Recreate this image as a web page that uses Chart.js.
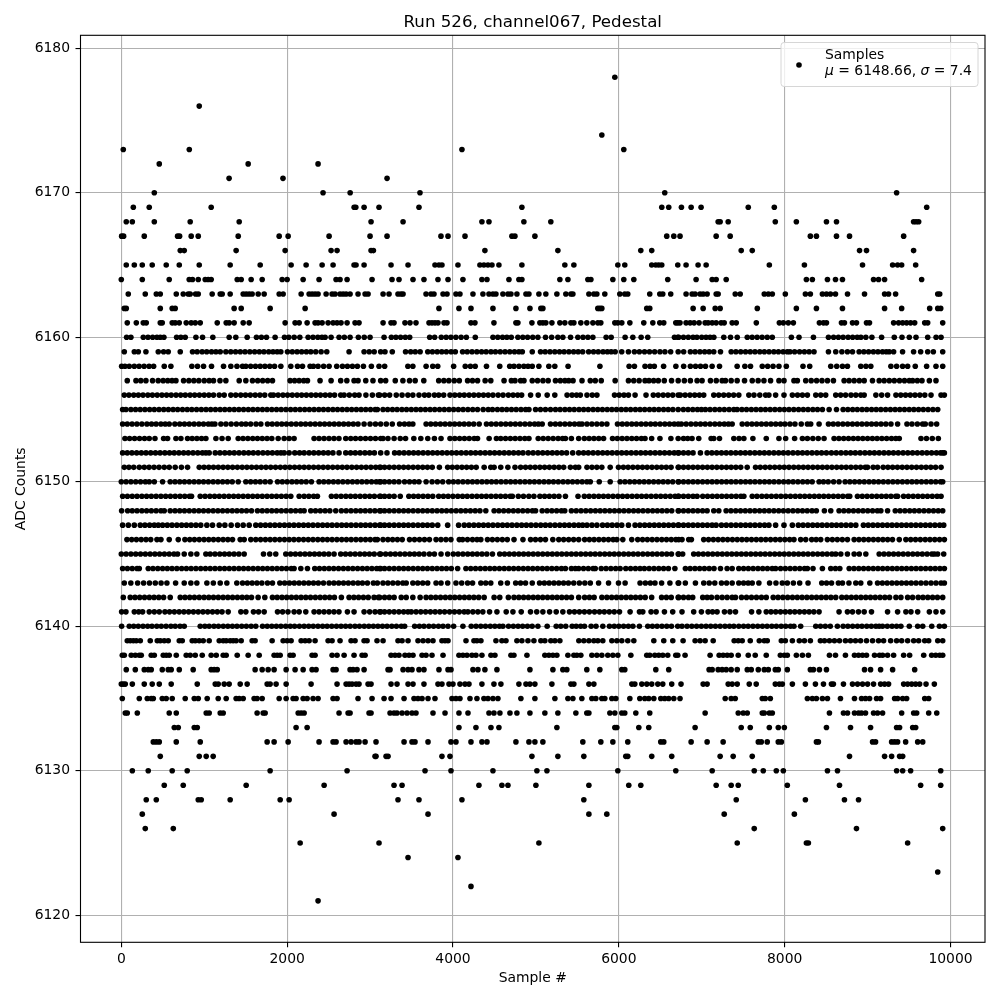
<!DOCTYPE html>
<html>
<head>
<meta charset="utf-8">
<title>Pedestal</title>
<script src="https://cdn.jsdelivr.net/npm/chart.js@4"></script>
<style>
  html, body { margin: 0; padding: 0; background: #fff; }
  canvas { display: block; }
</style>
</head>
<body>
<canvas id="pedestalChart" width="1000" height="1000"></canvas>
<script>
// Values: for each ADC level, the sample numbers that sit on it
const xTickValues = [0, 2000, 4000, 6000, 8000, 10000];
const yTickValues = [6120, 6130, 6140, 6150, 6160, 6170, 6180];
const chartTitle = 'Run 526, channel067, Pedestal';
const seriesName = 'Samples';
const meanText = ' = 6148.66, ';
const sigmaText = ' = 7.4';

const at6178 = [5952];
const at6176 = [940];
const at6174 = [5795];
const at6173 = [24, 820, 4108, 6060];
const at6172 = [458, 1530, 2373];
const at6171 = [1300, 1950, 3205];
const at6170 = [398, 2433, 2760, 3602, 6554, 9350];
const at6169 = [145, 337, 1084, 2808, 2828, 2928, 3108, 3590, 4831, 6518, 6602, 6755, 6872, 6992, 7561, 7875, 9713];
const at6168 = [60, 133, 398, 831, 1422, 3012, 3398, 4349, 4434, 4855, 5180, 7198, 7222, 7319, 7887, 8141, 8504, 8625, 9555, 9585, 9616];
const at6167 = [4, 28, 277, 679, 703, 843, 928, 1410, 1904, 2012, 2506, 3000, 3205, 3855, 3940, 4145, 4711, 4747, 4988, 6578, 6663, 6738, 7174, 7343, 8310, 8383, 8625, 8782, 9435];
const at6166 = [711, 759, 1385, 1976, 2530, 2602, 3012, 3040, 4385, 5265, 6265, 6397, 7476, 7609, 8903, 8987, 9555];
const at6165 = [60, 157, 253, 373, 542, 699, 940, 1313, 1675, 2048, 2229, 2422, 2554, 2807, 2831, 2928, 3253, 3458, 3783, 3831, 3867, 4060, 4325, 4373, 4422, 4470, 4554, 4831, 5349, 5458, 5988, 6072, 6397, 6446, 6482, 6518, 6711, 6811, 6956, 7053, 7815, 8238, 8939, 9302, 9362, 9411, 9580];
const at6164 = [0, 253, 578, 819, 859, 928, 1012, 1048, 1084, 1398, 1446, 1566, 1699, 1940, 2000, 2193, 2385, 2590, 2638, 2723, 3024, 3265, 3349, 3518, 3650, 3819, 3940, 4120, 4349, 4410, 4675, 4795, 4831, 5289, 5386, 5627, 5663, 5928, 6060, 6181, 6590, 6932, 7126, 7174, 7295, 8262, 8334, 8516, 8613, 8697, 9072, 9132, 9205, 9652];
const at6163 = [84, 289, 422, 470, 663, 747, 807, 831, 896, 928, 1096, 1193, 1217, 1313, 1470, 1506, 1542, 1578, 1651, 1723, 1904, 1952, 2169, 2265, 2301, 2337, 2373, 2470, 2542, 2578, 2638, 2675, 2711, 2759, 2855, 2940, 2976, 3157, 3229, 3337, 3373, 3398, 3675, 3735, 3771, 3880, 3928, 4036, 4084, 4241, 4361, 4434, 4482, 4518, 4602, 4663, 4699, 4771, 4880, 4916, 5036, 5120, 5253, 5361, 5422, 5446, 5639, 5699, 5735, 5831, 6012, 6072, 6108, 6373, 6494, 6530, 6626, 6811, 6884, 6920, 6980, 7017, 7065, 7174, 7198, 7404, 7464, 7754, 7803, 7851, 8008, 8250, 8310, 8455, 8504, 8552, 8613, 8758, 8963, 9205, 9253, 9338, 9846, 9870];
const at6162 = [36, 60, 470, 614, 650, 1361, 1446, 1795, 2217, 3831, 4072, 4217, 4482, 4759, 4928, 5060, 5084, 5747, 5771, 5795, 6337, 6373, 6896, 7017, 7162, 7222, 7670, 8141, 8383, 8697, 9205, 9411, 9749, 9846, 9882];
const at6161 = [72, 181, 265, 301, 470, 494, 614, 650, 699, 783, 843, 892, 952, 1157, 1265, 1301, 1361, 1470, 1542, 1976, 2096, 2145, 2241, 2337, 2373, 2422, 2494, 2554, 2602, 2650, 2723, 2819, 2867, 3157, 3253, 3289, 3421, 3482, 3554, 3711, 3747, 3783, 3819, 3892, 3928, 4217, 4265, 4494, 4759, 4783, 4952, 5048, 5084, 5120, 5193, 5289, 5349, 5422, 5458, 5542, 5614, 5687, 5747, 5783, 5952, 5988, 6036, 6133, 6301, 6410, 6494, 6542, 6687, 6711, 6738, 6811, 6860, 6908, 6968, 7041, 7077, 7126, 7174, 7234, 7271, 7367, 7416, 7658, 7936, 7984, 8044, 8105, 8419, 8468, 8504, 8685, 8721, 8818, 8866, 8987, 9023, 9314, 9374, 9423, 9471, 9519, 9568, 9689, 9725, 9906];
const at6160 = [64, 116, 265, 322, 378, 430, 470, 514, 667, 718, 771, 900, 980, 1104, 1301, 1381, 1518, 1630, 1690, 1751, 1855, 1968, 2020, 2085, 2153, 2253, 2312, 2370, 2420, 2458, 2530, 2626, 2690, 2759, 2859, 2930, 3000, 3169, 3257, 3312, 3368, 3425, 3478, 3719, 3779, 3859, 3918, 3975, 4035, 4098, 4161, 4269, 4482, 4540, 4598, 4650, 4703, 4783, 4842, 4900, 4962, 5024, 5116, 5190, 5265, 5325, 5418, 5506, 5568, 5627, 5687, 5847, 5908, 6076, 6169, 6269, 6349, 6671, 6711, 6722, 6780, 6838, 6895, 6942, 7000, 7052, 7100, 7146, 7266, 7347, 7428, 7549, 7608, 7668, 7728, 7790, 7851, 8081, 8173, 8347, 8528, 8590, 8648, 8705, 8765, 8820, 8875, 8919, 8979, 9052, 9169, 9322, 9415, 9503, 9584, 9725, 9826, 9886];
const at6159 = [36, 157, 205, 297, 446, 510, 566, 711, 859, 915, 975, 1030, 1088, 1141, 1193, 1261, 1320, 1378, 1435, 1492, 1550, 1608, 1665, 1720, 1778, 1830, 1880, 1924, 2004, 2062, 2120, 2175, 2232, 2285, 2345, 2410, 2478, 2747, 2928, 2990, 3050, 3128, 3180, 3268, 3428, 3490, 3545, 3604, 3696, 3752, 3810, 3865, 3920, 3978, 4028, 4116, 4172, 4230, 4288, 4345, 4400, 4458, 4512, 4570, 4628, 4685, 4742, 4795, 4836, 4956, 5056, 5112, 5170, 5228, 5285, 5340, 5398, 5455, 5510, 5564, 5636, 5695, 5752, 5810, 5862, 5908, 5956, 6035, 6116, 6188, 6248, 6310, 6370, 6432, 6496, 6556, 6625, 6716, 6782, 6863, 6920, 6978, 7035, 7090, 7145, 7226, 7355, 7412, 7470, 7528, 7585, 7642, 7700, 7755, 7812, 7870, 7925, 7982, 8032, 8064, 8120, 8180, 8238, 8295, 8354, 8528, 8616, 8690, 8757, 8818, 8898, 8955, 9012, 9070, 9125, 9180, 9225, 9261, 9314, 9422, 9555, 9640, 9725, 9793, 9906];
const at6158 = [4, 44, 96, 157, 215, 275, 335, 390, 518, 598, 851, 919, 992, 1088, 1233, 1321, 1395, 1462, 1502, 1560, 1618, 1675, 1732, 1790, 1848, 1924, 2044, 2125, 2185, 2277, 2317, 2373, 2440, 2506, 2598, 2667, 2727, 2787, 2847, 2920, 3016, 3108, 3176, 3456, 3516, 3676, 3756, 3816, 4008, 4148, 4210, 4268, 4404, 4564, 4684, 4736, 4796, 4855, 4905, 4956, 5036, 5156, 5228, 5388, 5772, 6124, 6188, 6316, 6376, 6428, 6540, 6688, 6782, 6863, 6925, 6985, 7045, 7125, 7214, 7427, 7520, 7588, 7730, 7795, 7860, 7931, 8020, 8221, 8302, 8556, 8628, 8697, 8757, 8918, 8980, 9039, 9281, 9350, 9422, 9483, 9575, 9712, 9825, 9906];
const at6157 = [72, 177, 235, 297, 377, 445, 505, 560, 612, 659, 751, 815, 875, 935, 1000, 1060, 1112, 1190, 1261, 1422, 1502, 1582, 1645, 1705, 1765, 1823, 2036, 2090, 2145, 2200, 2245, 2397, 2530, 2646, 2720, 2807, 2855, 2948, 3035, 3128, 3188, 3304, 3396, 3476, 3544, 3648, 3828, 3890, 3950, 4015, 4076, 4176, 4235, 4296, 4388, 4456, 4616, 4704, 4748, 4816, 4856, 4956, 5020, 5085, 5148, 5236, 5295, 5350, 5396, 5448, 5556, 5656, 5716, 5788, 5956, 6116, 6180, 6245, 6316, 6364, 6420, 6476, 6548, 6636, 6716, 6790, 6863, 6944, 7004, 7105, 7175, 7246, 7286, 7355, 7427, 7516, 7609, 7680, 7750, 7830, 7931, 7992, 8112, 8153, 8254, 8320, 8385, 8450, 8516, 8588, 8717, 8777, 8838, 8900, 8959, 9059, 9140, 9200, 9262, 9322, 9385, 9445, 9503, 9543, 9600, 9656, 9745, 9825];
const at6156 = [36, 92, 150, 206, 262, 320, 375, 433, 490, 546, 602, 660, 716, 772, 830, 885, 942, 1000, 1056, 1112, 1181, 1241, 1321, 1380, 1440, 1498, 1556, 1615, 1672, 1730, 1803, 1835, 1892, 1950, 2005, 2062, 2120, 2175, 2232, 2290, 2346, 2402, 2460, 2516, 2572, 2646, 2687, 2750, 2815, 2867, 2950, 3028, 3100, 3116, 3176, 3236, 3316, 3386, 3456, 3516, 3590, 3656, 3708, 3776, 3828, 3888, 3964, 4022, 4080, 4136, 4195, 4252, 4310, 4368, 4425, 4482, 4545, 4604, 4668, 4725, 4780, 4828, 4936, 5028, 5136, 5228, 5376, 5436, 5490, 5536, 5616, 5680, 5736, 5948, 6005, 6062, 6116, 6196, 6328, 6416, 6475, 6535, 6592, 6650, 6716, 6742, 6800, 6858, 6915, 6972, 7024, 7145, 7205, 7265, 7325, 7385, 7447, 7568, 7630, 7700, 7770, 7810, 7891, 7992, 8093, 8155, 8214, 8274, 8375, 8435, 8495, 8616, 8675, 8735, 8800, 8858, 8918, 8959, 9100, 9170, 9241, 9342, 9400, 9458, 9515, 9572, 9630, 9690, 9765, 9886, 9926];
const at6155 = [16, 56, 116, 172, 228, 285, 342, 398, 455, 512, 568, 625, 680, 738, 795, 850, 908, 965, 1022, 1078, 1135, 1192, 1248, 1305, 1362, 1418, 1475, 1532, 1588, 1645, 1702, 1758, 1815, 1872, 1928, 1985, 2042, 2098, 2155, 2212, 2268, 2325, 2382, 2438, 2495, 2552, 2608, 2665, 2722, 2778, 2835, 2892, 2948, 3005, 3062, 3088, 3156, 3212, 3270, 3326, 3384, 3440, 3497, 3554, 3610, 3667, 3724, 3780, 3838, 3895, 3952, 4008, 4065, 4122, 4180, 4238, 4296, 4364, 4425, 4476, 4536, 4592, 4648, 4705, 4762, 4820, 4876, 4916, 4996, 5055, 5115, 5176, 5236, 5292, 5350, 5406, 5462, 5520, 5576, 5632, 5690, 5746, 5802, 5860, 5916, 5972, 6030, 6086, 6142, 6200, 6256, 6312, 6370, 6426, 6482, 6540, 6596, 6652, 6716, 6778, 6835, 6892, 6948, 6996, 7044, 7100, 7158, 7215, 7272, 7330, 7387, 7427, 7484, 7540, 7598, 7655, 7712, 7768, 7825, 7882, 7940, 7996, 8052, 8110, 8168, 8225, 8282, 8340, 8396, 8455, 8536, 8625, 8705, 8762, 8820, 8876, 8934, 8990, 9048, 9104, 9160, 9218, 9275, 9332, 9388, 9445, 9502, 9558, 9615, 9672, 9730, 9788, 9846];
const at6154 = [16, 72, 130, 188, 248, 309, 365, 420, 478, 530, 578, 646, 705, 762, 820, 878, 936, 992, 1050, 1092, 1129, 1201, 1262, 1325, 1388, 1450, 1502, 1560, 1625, 1683, 1763, 1820, 1878, 1935, 1992, 2050, 2108, 2165, 2222, 2280, 2338, 2395, 2452, 2510, 2568, 2625, 2682, 2740, 2798, 2855, 2928, 3000, 3065, 3128, 3196, 3268, 3356, 3415, 3470, 3516, 3676, 3732, 3790, 3848, 3905, 3962, 4020, 4078, 4135, 4192, 4250, 4316, 4404, 4462, 4520, 4578, 4636, 4694, 4752, 4810, 4868, 4926, 4984, 5030, 5076, 5176, 5235, 5292, 5350, 5408, 5466, 5520, 5556, 5616, 5675, 5735, 5795, 5856, 5984, 6042, 6098, 6156, 6212, 6270, 6326, 6384, 6440, 6498, 6555, 6612, 6668, 6716, 6754, 6812, 6870, 6928, 6985, 7042, 7100, 7158, 7215, 7272, 7322, 7367, 7488, 7548, 7605, 7662, 7720, 7778, 7835, 7892, 7950, 8004, 8064, 8124, 8200, 8274, 8314, 8415, 8528, 8586, 8644, 8702, 8760, 8818, 8875, 8932, 8990, 9048, 9105, 9162, 9220, 9282, 9362, 9475, 9535, 9600, 9664, 9696, 9765, 9833];
const at6153 = [44, 100, 160, 220, 280, 337, 406, 510, 558, 659, 719, 799, 855, 912, 968, 1020, 1141, 1215, 1289, 1410, 1468, 1526, 1585, 1642, 1700, 1758, 1815, 1892, 1964, 2024, 2084, 2325, 2385, 2445, 2505, 2565, 2625, 2707, 2767, 2825, 2885, 2945, 3005, 3065, 3128, 3156, 3216, 3290, 3364, 3428, 3528, 3612, 3696, 3776, 3856, 3964, 4022, 4080, 4138, 4196, 4256, 4296, 4436, 4524, 4576, 4634, 4692, 4750, 4808, 4866, 4916, 5028, 5088, 5148, 5208, 5268, 5322, 5356, 5428, 5516, 5584, 5642, 5700, 5758, 5816, 5924, 5982, 6040, 6098, 6156, 6214, 6272, 6316, 6396, 6496, 6628, 6716, 6780, 6830, 6883, 6964, 7113, 7145, 7214, 7387, 7450, 7508, 7617, 7778, 7931, 8012, 8120, 8214, 8274, 8340, 8405, 8475, 8596, 8654, 8712, 8770, 8828, 8885, 8942, 9000, 9058, 9115, 9172, 9230, 9288, 9340, 9382, 9644, 9710, 9780, 9853];
const at6152 = [16, 72, 128, 185, 242, 298, 355, 412, 468, 525, 582, 638, 695, 752, 808, 865, 922, 978, 1020, 1060, 1133, 1190, 1248, 1305, 1362, 1420, 1478, 1535, 1592, 1650, 1708, 1765, 1822, 1880, 1925, 1964, 2024, 2092, 2150, 2205, 2265, 2322, 2380, 2438, 2495, 2552, 2626, 2707, 2765, 2822, 2880, 2938, 2995, 3052, 3128, 3204, 3296, 3352, 3410, 3468, 3525, 3582, 3640, 3698, 3755, 3812, 3870, 3928, 3985, 4042, 4100, 4158, 4215, 4272, 4330, 4388, 4445, 4502, 4560, 4618, 4675, 4732, 4790, 4844, 4908, 4966, 5025, 5082, 5140, 5198, 5255, 5312, 5370, 5444, 5516, 5575, 5632, 5690, 5748, 5805, 5862, 5920, 5978, 6035, 6092, 6150, 6208, 6265, 6322, 6380, 6438, 6495, 6552, 6610, 6668, 6716, 6722, 6780, 6838, 6895, 6984, 7065, 7122, 7180, 7238, 7295, 7352, 7410, 7468, 7525, 7582, 7640, 7698, 7755, 7812, 7870, 7928, 7985, 8042, 8100, 8158, 8215, 8272, 8330, 8388, 8445, 8503, 8564, 8622, 8680, 8738, 8795, 8852, 8910, 8968, 9025, 9082, 9140, 9198, 9255, 9312, 9370, 9428, 9485, 9542, 9600, 9658, 9715, 9772, 9830, 9880, 9906, 9926];
const at6151 = [36, 92, 150, 217, 277, 335, 395, 455, 518, 578, 650, 725, 799, 940, 998, 1055, 1112, 1170, 1228, 1285, 1342, 1400, 1458, 1515, 1572, 1630, 1688, 1745, 1802, 1860, 1918, 1975, 2032, 2090, 2148, 2205, 2262, 2320, 2378, 2435, 2492, 2550, 2608, 2665, 2722, 2780, 2838, 2895, 2952, 3010, 3068, 3128, 3116, 3175, 3232, 3290, 3348, 3405, 3462, 3520, 3578, 3635, 3692, 3750, 3836, 3936, 3992, 4050, 4108, 4165, 4222, 4280, 4376, 4456, 4496, 4576, 4662, 4748, 4816, 4875, 4932, 4990, 5048, 5105, 5162, 5220, 5278, 5335, 5416, 5476, 5516, 5616, 5676, 5735, 5795, 5896, 5996, 6055, 6112, 6170, 6228, 6285, 6342, 6400, 6458, 6515, 6572, 6630, 6716, 6722, 6780, 6838, 6895, 6952, 7010, 7068, 7125, 7182, 7240, 7298, 7355, 7412, 7470, 7548, 7649, 7706, 7765, 7822, 7880, 7938, 7995, 8052, 8110, 8168, 8225, 8282, 8340, 8398, 8455, 8512, 8570, 8628, 8685, 8742, 8800, 8858, 8915, 8972, 8999, 9067, 9120, 9188, 9245, 9302, 9360, 9418, 9475, 9532, 9590, 9648, 9705, 9762, 9820, 9886];
const at6150 = [0, 58, 116, 174, 232, 290, 337, 398, 498, 590, 648, 705, 762, 820, 878, 935, 992, 1050, 1108, 1165, 1222, 1280, 1338, 1410, 1502, 1560, 1618, 1675, 1735, 1795, 1884, 1942, 2000, 2058, 2115, 2172, 2230, 2293, 2385, 2442, 2500, 2558, 2615, 2672, 2730, 2788, 2845, 2902, 2960, 3018, 3075, 3128, 3116, 3175, 3232, 3290, 3348, 3416, 3476, 3535, 3590, 3676, 3748, 3812, 3876, 3948, 4005, 4062, 4120, 4178, 4235, 4292, 4350, 4408, 4465, 4522, 4580, 4638, 4695, 4752, 4810, 4868, 4925, 4982, 5040, 5098, 5155, 5212, 5270, 5328, 5385, 5442, 5500, 5558, 5615, 5656, 5764, 5896, 6016, 6074, 6132, 6190, 6248, 6305, 6362, 6420, 6478, 6535, 6592, 6650, 6716, 6722, 6780, 6838, 6895, 6952, 7010, 7068, 7125, 7182, 7240, 7298, 7355, 7412, 7470, 7528, 7585, 7642, 7700, 7758, 7815, 7872, 7930, 7988, 8045, 8102, 8160, 8218, 8275, 8332, 8415, 8468, 8525, 8590, 8656, 8729, 8786, 8844, 8902, 8960, 9018, 9075, 9132, 9190, 9248, 9305, 9362, 9420, 9478, 9535, 9592, 9650, 9708, 9765, 9822, 9880, 9906];
const at6149 = [16, 74, 132, 190, 248, 305, 362, 420, 478, 535, 592, 650, 708, 765, 822, 847, 952, 1010, 1068, 1125, 1182, 1240, 1298, 1355, 1412, 1470, 1528, 1585, 1642, 1700, 1758, 1815, 1872, 1930, 1988, 2044, 2145, 2205, 2262, 2320, 2365, 2534, 2592, 2650, 2708, 2765, 2822, 2880, 2938, 2995, 3052, 3128, 3116, 3175, 3232, 3290, 3364, 3468, 3525, 3582, 3640, 3698, 3756, 3828, 3885, 3942, 4000, 4058, 4115, 4172, 4230, 4288, 4345, 4402, 4460, 4518, 4575, 4632, 4690, 4716, 4788, 4850, 4915, 4976, 5048, 5105, 5162, 5220, 5278, 5356, 5508, 5584, 5642, 5700, 5758, 5815, 5872, 5930, 5988, 6045, 6102, 6160, 6218, 6275, 6332, 6390, 6448, 6505, 6562, 6620, 6678, 6716, 6722, 6780, 6838, 6895, 6944, 7012, 7070, 7128, 7185, 7242, 7300, 7358, 7415, 7472, 7508, 7609, 7666, 7725, 7782, 7840, 7898, 7955, 8012, 8070, 8128, 8185, 8242, 8300, 8358, 8415, 8472, 8530, 8588, 8645, 8702, 8760, 8785, 8878, 8936, 8994, 9052, 9110, 9168, 9225, 9282, 9340, 9362, 9434, 9492, 9550, 9608, 9665, 9722, 9780, 9838, 9886];
const at6148 = [4, 76, 132, 190, 248, 305, 362, 420, 478, 518, 590, 648, 705, 762, 820, 878, 935, 992, 1050, 1108, 1165, 1222, 1280, 1338, 1395, 1452, 1510, 1570, 1642, 1700, 1758, 1815, 1872, 1930, 1988, 2045, 2102, 2160, 2205, 2285, 2342, 2400, 2458, 2515, 2586, 2654, 2712, 2770, 2828, 2885, 2942, 3000, 3058, 3128, 3116, 3175, 3232, 3290, 3348, 3405, 3462, 3520, 3578, 3635, 3692, 3750, 3808, 3865, 3922, 3980, 4038, 4095, 4152, 4210, 4268, 4325, 4396, 4496, 4554, 4612, 4670, 4728, 4785, 4842, 4900, 4958, 4996, 5076, 5135, 5192, 5250, 5308, 5348, 5428, 5486, 5544, 5602, 5660, 5718, 5775, 5832, 5890, 5948, 6005, 6062, 6120, 6178, 6235, 6292, 6350, 6408, 6465, 6522, 6580, 6638, 6716, 6722, 6780, 6838, 6895, 6952, 7010, 7065, 7145, 7206, 7294, 7352, 7410, 7468, 7525, 7582, 7640, 7698, 7755, 7812, 7870, 7928, 7985, 8042, 8100, 8158, 8215, 8272, 8330, 8382, 8479, 8556, 8656, 8714, 8772, 8830, 8888, 8945, 9002, 9060, 9118, 9160, 9241, 9334, 9392, 9450, 9508, 9565, 9622, 9680, 9738, 9795, 9852, 9906];
const at6147 = [16, 85, 157, 229, 285, 342, 398, 446, 498, 555, 612, 670, 728, 785, 842, 900, 958, 1032, 1100, 1181, 1249, 1325, 1402, 1470, 1542, 1622, 1680, 1738, 1795, 1852, 1910, 1968, 2025, 2082, 2140, 2198, 2255, 2312, 2370, 2428, 2485, 2542, 2600, 2658, 2715, 2772, 2830, 2888, 2945, 3002, 3060, 3128, 3116, 3175, 3232, 3290, 3348, 3405, 3462, 3520, 3578, 3635, 3692, 3750, 3816, 3936, 4068, 4136, 4194, 4252, 4310, 4368, 4425, 4482, 4540, 4598, 4655, 4712, 4770, 4828, 4885, 4942, 5000, 5058, 5115, 5172, 5230, 5288, 5345, 5402, 5460, 5516, 5564, 5616, 5676, 5736, 5804, 5862, 5920, 5978, 6035, 6116, 6196, 6254, 6312, 6370, 6428, 6485, 6542, 6600, 6658, 6716, 6722, 6780, 6838, 6895, 6952, 7010, 7068, 7125, 7173, 7238, 7296, 7354, 7412, 7470, 7528, 7585, 7642, 7700, 7758, 7810, 7891, 7992, 8093, 8165, 8222, 8280, 8338, 8395, 8452, 8510, 8568, 8625, 8682, 8740, 8798, 8858, 8950, 9008, 9065, 9122, 9180, 9238, 9295, 9352, 9410, 9468, 9525, 9582, 9640, 9698, 9755, 9812, 9870, 9918];
const at6146 = [68, 125, 182, 240, 298, 355, 430, 478, 578, 687, 767, 825, 882, 940, 998, 1055, 1112, 1170, 1228, 1285, 1341, 1434, 1482, 1562, 1622, 1680, 1738, 1795, 1852, 1910, 1968, 2025, 2082, 2140, 2198, 2255, 2312, 2370, 2428, 2485, 2542, 2600, 2658, 2715, 2772, 2830, 2888, 2945, 3002, 3060, 3088, 3156, 3215, 3272, 3330, 3388, 3476, 3536, 3596, 3656, 3716, 3796, 3855, 3915, 3975, 4076, 4116, 4175, 4235, 4290, 4336, 4416, 4475, 4535, 4595, 4655, 4736, 4844, 4936, 4995, 5055, 5115, 5204, 5276, 5335, 5395, 5455, 5516, 5588, 5645, 5702, 5760, 5818, 5875, 5932, 5976, 6048, 6156, 6228, 6286, 6344, 6402, 6460, 6518, 6575, 6632, 6688, 6722, 6762, 6843, 6875, 7024, 7082, 7140, 7198, 7255, 7312, 7370, 7428, 7485, 7542, 7600, 7658, 7715, 7772, 7830, 7888, 7945, 8002, 8060, 8112, 8193, 8254, 8326, 8380, 8435, 8515, 8575, 8635, 8695, 8757, 8838, 8896, 8954, 9012, 9070, 9128, 9185, 9242, 9300, 9382, 9462, 9520, 9578, 9636, 9695, 9752, 9810, 9868, 9926];
const at6145 = [0, 58, 116, 174, 232, 290, 348, 405, 462, 520, 578, 635, 679, 759, 839, 911, 1020, 1072, 1130, 1188, 1245, 1302, 1360, 1418, 1482, 1715, 1790, 1863, 1984, 2042, 2100, 2158, 2215, 2272, 2330, 2388, 2445, 2502, 2566, 2646, 2704, 2762, 2820, 2878, 2935, 2992, 3050, 3128, 3116, 3188, 3246, 3304, 3362, 3420, 3478, 3535, 3592, 3650, 3716, 3776, 3856, 3936, 4004, 4062, 4120, 4178, 4235, 4292, 4350, 4408, 4476, 4564, 4622, 4680, 4738, 4795, 4852, 4910, 4968, 5025, 5082, 5140, 5198, 5255, 5312, 5370, 5428, 5485, 5542, 5600, 5658, 5715, 5772, 5830, 5888, 5945, 6002, 6060, 6118, 6175, 6232, 6290, 6348, 6405, 6462, 6520, 6578, 6635, 6716, 6722, 6770, 6903, 6960, 7018, 7075, 7132, 7190, 7248, 7305, 7362, 7420, 7478, 7535, 7592, 7650, 7708, 7765, 7822, 7880, 7938, 7995, 8052, 8110, 8168, 8225, 8282, 8340, 8398, 8455, 8512, 8570, 8616, 8677, 8757, 8838, 8900, 8979, 9140, 9198, 9256, 9314, 9372, 9430, 9488, 9545, 9602, 9660, 9718, 9775, 9805, 9845, 9918];
const at6144 = [16, 74, 132, 190, 217, 325, 382, 440, 498, 555, 612, 670, 728, 785, 842, 900, 958, 1015, 1072, 1130, 1188, 1245, 1302, 1360, 1418, 1475, 1532, 1590, 1648, 1705, 1762, 1820, 1878, 1935, 1992, 2050, 2084, 2165, 2245, 2333, 2390, 2448, 2505, 2562, 2620, 2678, 2735, 2792, 2850, 2908, 2965, 3022, 3080, 3128, 3116, 3175, 3232, 3290, 3348, 3405, 3462, 3520, 3578, 3635, 3692, 3750, 3808, 3865, 3922, 3980, 4056, 4156, 4214, 4272, 4330, 4388, 4445, 4502, 4560, 4618, 4675, 4732, 4790, 4848, 4905, 4962, 5020, 5078, 5135, 5192, 5250, 5308, 5356, 5428, 5476, 5516, 5574, 5632, 5690, 5716, 5788, 5846, 5904, 5962, 6016, 6084, 6142, 6200, 6256, 6308, 6366, 6424, 6482, 6540, 6598, 6676, 6803, 6860, 6918, 6975, 7032, 7090, 7148, 7226, 7306, 7367, 7447, 7505, 7562, 7620, 7678, 7735, 7792, 7850, 7891, 7951, 8008, 8066, 8124, 8182, 8240, 8274, 8342, 8455, 8556, 8612, 8665, 8778, 8836, 8894, 8952, 9010, 9068, 9125, 9182, 9240, 9298, 9355, 9412, 9470, 9528, 9585, 9642, 9700, 9758, 9815, 9872, 9926];
const at6143 = [36, 115, 197, 269, 340, 410, 480, 550, 655, 759, 839, 911, 1032, 1110, 1193, 1273, 1393, 1462, 1520, 1578, 1636, 1695, 1763, 1823, 1912, 1970, 2028, 2086, 2144, 2202, 2260, 2318, 2376, 2438, 2506, 2564, 2622, 2680, 2738, 2796, 2854, 2908, 2968, 3040, 3088, 3156, 3215, 3275, 3335, 3395, 3436, 3516, 3575, 3635, 3695, 3796, 3856, 3936, 4036, 4105, 4176, 4236, 4336, 4395, 4456, 4576, 4656, 4756, 4815, 4875, 4956, 5044, 5102, 5160, 5218, 5276, 5334, 5392, 5456, 5524, 5590, 5656, 5756, 5876, 5996, 6076, 6256, 6320, 6380, 6436, 6516, 6616, 6716, 6722, 6802, 6924, 7024, 7090, 7157, 7238, 7300, 7367, 7447, 7505, 7560, 7609, 7689, 7818, 7895, 7971, 8032, 8105, 8181, 8282, 8447, 8505, 8565, 8648, 8697, 8775, 8858, 8918, 9027, 9120, 9178, 9236, 9294, 9352, 9410, 9468, 9526, 9584, 9644, 9704, 9765, 9825, 9886, 9926];
const at6142 = [24, 108, 165, 222, 280, 338, 395, 452, 510, 590, 711, 768, 825, 882, 940, 998, 1055, 1112, 1170, 1228, 1285, 1342, 1400, 1458, 1514, 1570, 1650, 1731, 1823, 1880, 1938, 1995, 2052, 2110, 2168, 2225, 2282, 2340, 2398, 2455, 2512, 2570, 2654, 2747, 2805, 2862, 2920, 2978, 3048, 3100, 3116, 3175, 3232, 3290, 3376, 3436, 3516, 3604, 3676, 3734, 3792, 3850, 3908, 3965, 4022, 4080, 4138, 4195, 4252, 4310, 4376, 4496, 4564, 4668, 4736, 4794, 4852, 4910, 4968, 5025, 5082, 5140, 5198, 5255, 5312, 5370, 5428, 5516, 5588, 5645, 5702, 5796, 5856, 5914, 5972, 6030, 6088, 6145, 6202, 6260, 6318, 6396, 6516, 6574, 6632, 6716, 6722, 6780, 6840, 6891, 7012, 7065, 7117, 7185, 7246, 7306, 7367, 7407, 7480, 7540, 7600, 7660, 7720, 7778, 7862, 7920, 7978, 8036, 8094, 8152, 8210, 8268, 8326, 8384, 8442, 8500, 8558, 8616, 8689, 8746, 8804, 8862, 8920, 8978, 9035, 9092, 9150, 9208, 9265, 9342, 9402, 9483, 9543, 9611, 9668, 9726, 9784, 9842, 9906];
const at6141 = [4, 56, 157, 210, 257, 337, 398, 458, 526, 582, 640, 698, 755, 812, 870, 928, 985, 1042, 1100, 1158, 1215, 1289, 1442, 1502, 1594, 1655, 1723, 1884, 1945, 2010, 2084, 2145, 2225, 2325, 2385, 2445, 2505, 2565, 2625, 2727, 2807, 2928, 2995, 3060, 3128, 3116, 3175, 3232, 3290, 3348, 3405, 3457, 3497, 3555, 3612, 3670, 3728, 3785, 3842, 3899, 3959, 4018, 4076, 4135, 4180, 4240, 4300, 4360, 4441, 4530, 4642, 4723, 4823, 4935, 5010, 5084, 5165, 5245, 5325, 5405, 5465, 5525, 5585, 5645, 5707, 5767, 5825, 5885, 5945, 6008, 6136, 6249, 6289, 6389, 6450, 6550, 6650, 6762, 6903, 6996, 7077, 7130, 7185, 7274, 7340, 7407, 7601, 7689, 7778, 7835, 7892, 7950, 8008, 8065, 8122, 8180, 8238, 8295, 8352, 8415, 8656, 8757, 8818, 8890, 8959, 9047, 9241, 9362, 9462, 9523, 9604, 9745, 9825, 9906];
const at6140 = [4, 96, 150, 205, 262, 318, 370, 428, 482, 540, 598, 650, 708, 759, 952, 1008, 1060, 1118, 1172, 1230, 1285, 1340, 1395, 1452, 1508, 1566, 1622, 1703, 1760, 1815, 1870, 1925, 1982, 2038, 2090, 2148, 2205, 2260, 2315, 2372, 2428, 2482, 2538, 2595, 2650, 2705, 2760, 2818, 2872, 2930, 2985, 3040, 3095, 3150, 3205, 3262, 3318, 3377, 3417, 3538, 3595, 3650, 3710, 3766, 3825, 3880, 3940, 4008, 4120, 4220, 4278, 4335, 4392, 4450, 4505, 4560, 4602, 4670, 4728, 4785, 4840, 4898, 4955, 5024, 5136, 5245, 5300, 5360, 5437, 5486, 5540, 5586, 5666, 5725, 5807, 5887, 5945, 6000, 6058, 6115, 6170, 6248, 6349, 6405, 6462, 6520, 6578, 6635, 6710, 6762, 6823, 6880, 6938, 6995, 7052, 7108, 7165, 7222, 7280, 7335, 7387, 7447, 7505, 7560, 7618, 7675, 7732, 7788, 7845, 7900, 7958, 8012, 8070, 8112, 8193, 8375, 8432, 8490, 8550, 8636, 8705, 8762, 8820, 8878, 8932, 8990, 9045, 9100, 9140, 9180, 9238, 9295, 9350, 9402, 9503, 9604, 9665, 9774, 9866, 9926];
const at6139 = [72, 108, 145, 181, 229, 349, 434, 470, 518, 566, 699, 735, 855, 892, 940, 988, 1060, 1181, 1229, 1265, 1313, 1349, 1385, 1446, 1578, 1614, 1819, 1952, 2000, 2048, 2169, 2217, 2265, 2337, 2494, 2542, 2638, 2771, 2819, 2928, 2964, 3084, 3157, 3337, 3386, 3458, 3578, 3639, 3699, 3759, 3867, 3904, 3940, 4157, 4253, 4289, 4337, 4518, 4590, 4639, 4771, 4831, 4904, 4976, 5060, 5108, 5180, 5229, 5289, 5518, 5578, 5639, 5699, 5747, 5807, 5916, 5976, 6036, 6108, 6181, 6422, 6542, 6651, 6775, 6920, 6980, 7041, 7138, 7391, 7440, 7488, 7585, 7694, 7754, 7790, 7960, 8008, 8093, 8177, 8238, 8310, 8431, 8480, 8540, 8600, 8661, 8733, 8794, 8854, 8915, 8987, 9060, 9132, 9193, 9278, 9350, 9411, 9483, 9556, 9616, 9689, 9737, 9846, 9906];
const at6138 = [12, 36, 120, 169, 217, 241, 361, 398, 506, 542, 578, 663, 783, 831, 892, 976, 1084, 1145, 1229, 1265, 1398, 1530, 1663, 1843, 1880, 1916, 2036, 2072, 2301, 2337, 2542, 2602, 2687, 2807, 2904, 2940, 3253, 3301, 3349, 3421, 3470, 3518, 3627, 3675, 3747, 3880, 4072, 4120, 4169, 4229, 4277, 4349, 4458, 4506, 4699, 4735, 4892, 5108, 5157, 5205, 5253, 5386, 5458, 5494, 5542, 5675, 5735, 5795, 5867, 5928, 5988, 6145, 6337, 6373, 6434, 6482, 6530, 6590, 6687, 6711, 6799, 7101, 7210, 7258, 7307, 7355, 7440, 7561, 7645, 7778, 7948, 7996, 8032, 8141, 8214, 8286, 8540, 8613, 8733, 8842, 8891, 8939, 8987, 9084, 9144, 9181, 9241, 9314, 9435, 9507, 9677, 9773, 9822, 9870, 9906];
const at6137 = [60, 169, 277, 325, 361, 494, 566, 602, 699, 867, 1084, 1120, 1157, 1614, 1699, 1771, 1843, 1988, 2096, 2193, 2301, 2349, 2554, 2590, 2759, 2795, 2843, 2928, 3217, 3241, 3398, 3458, 3506, 3590, 3650, 3831, 3940, 3976, 4241, 4301, 4385, 4530, 4928, 5205, 5325, 5373, 5614, 5771, 6036, 6072, 6446, 6602, 7089, 7126, 7198, 7246, 7295, 7355, 7428, 7549, 7597, 7682, 7754, 7803, 7887, 7923, 8032, 8310, 8347, 8419, 8504, 8963, 9036, 9157, 9302, 9568];
const at6136 = [0, 24, 48, 133, 277, 373, 458, 602, 916, 1133, 1169, 1241, 1301, 1434, 1518, 1759, 1795, 1867, 1988, 2289, 2602, 2711, 2747, 2783, 2831, 2867, 2976, 3012, 3253, 3325, 3458, 3518, 3650, 3819, 3867, 3952, 4000, 4084, 4145, 4193, 4349, 4494, 4578, 4795, 4880, 4928, 4988, 5193, 5422, 5458, 5639, 5699, 6157, 6193, 6277, 6337, 6397, 6470, 6530, 6638, 6750, 7017, 7065, 7319, 7367, 7428, 7573, 7657, 7887, 7935, 7972, 8093, 8250, 8371, 8468, 8564, 8588, 8709, 8818, 8879, 8939, 9000, 9072, 9157, 9205, 9253, 9435, 9483, 9532, 9580, 9628, 9705, 9805];
const at6135 = [12, 217, 313, 361, 386, 494, 542, 614, 771, 880, 928, 1036, 1169, 1265, 1385, 1422, 1470, 1602, 1638, 1699, 1904, 1988, 2072, 2108, 2193, 2241, 2313, 2373, 2554, 2602, 2855, 3024, 3169, 3253, 3410, 3530, 3578, 3627, 3699, 3783, 3988, 4036, 4084, 4205, 4289, 4373, 4422, 4482, 4542, 4819, 4988, 5229, 5386, 5446, 5554, 5675, 5723, 5795, 5831, 5916, 5964, 6133, 6253, 6313, 6361, 6422, 6506, 6554, 6602, 6663, 6738, 7283, 7355, 7404, 7730, 7766, 7827, 8274, 8334, 8383, 8455, 8516, 8673, 8842, 8927, 8975, 9024, 9108, 9157, 9326, 9362, 9423, 9471, 9689, 9737];
const at6134 = [48, 72, 193, 578, 663, 1024, 1060, 1193, 1229, 1638, 1711, 1735, 2133, 2169, 2205, 2626, 2735, 2759, 2988, 3012, 3241, 3289, 3325, 3386, 3446, 3506, 3554, 3759, 3904, 4072, 4181, 4434, 4494, 4566, 4687, 4771, 4928, 5108, 5265, 5482, 5614, 5639, 5892, 5952, 6036, 6072, 6205, 6373, 7041, 7440, 7500, 7549, 7730, 7754, 7815, 7851, 8540, 8709, 8758, 8842, 8891, 8927, 8975, 9072, 9120, 9181, 9411, 9556, 9592, 9737, 9834];
const at6133 = [639, 687, 880, 916, 2108, 2241, 4072, 4277, 4458, 4554, 5253, 5952, 5976, 6241, 6361, 6920, 7476, 7585, 7815, 7923, 7996, 8504, 8794, 9036, 9350, 9386, 9544, 9580];
const at6132 = [386, 422, 458, 663, 952, 1759, 1843, 2012, 2385, 2554, 2590, 2711, 2771, 2831, 2867, 2940, 3072, 3410, 3506, 3542, 3699, 3976, 4036, 4217, 4349, 4410, 4759, 4916, 4988, 5084, 5566, 5783, 5928, 6108, 6506, 6542, 6872, 7065, 7258, 7682, 7718, 7790, 7923, 7960, 8383, 8407, 9060, 9096, 9290, 9326, 9362, 9459, 9604, 9665];
const at6131 = [470, 940, 1024, 1108, 3060, 3072, 3193, 3217, 3867, 3964, 4952, 5265, 5578, 6084, 6108, 6397, 6638, 7222, 7379, 7609, 8782, 9205, 9290, 9386, 9423];
const at6130 = [133, 325, 614, 795, 1795, 2723, 3663, 3976, 4482, 5012, 5133, 5988, 6687, 7126, 7633, 7742, 7899, 7984, 8516, 8637, 9350, 9423, 9519, 9882];
const at6129 = [518, 747, 1506, 2446, 3289, 3386, 4313, 4590, 4663, 5000, 5639, 6120, 6265, 7174, 7355, 7440, 8032, 8661, 9640, 9882];
const at6128 = [301, 422, 928, 964, 1313, 1916, 2024, 3337, 3590, 4108, 5578, 7416, 8250, 8721, 8891];
const at6127 = [253, 2566, 3699, 5639, 5855, 7271, 8117];
const at6126 = [289, 627, 7633, 8866, 9906];
const at6125 = [2157, 3108, 5036, 7428, 8262, 8286, 9483];
const at6124 = [3458, 4060];
const at6123 = [9846];
const at6122 = [4217];
const at6121 = [2373];

const adcLevels = [6178, 6176, 6174, 6173, 6172, 6171, 6170, 6169, 6168, 6167, 6166, 6165, 6164, 6163, 6162, 6161, 6160, 6159, 6158, 6157, 6156, 6155, 6154, 6153, 6152, 6151, 6150, 6149, 6148, 6147, 6146, 6145, 6144, 6143, 6142, 6141, 6140, 6139, 6138, 6137, 6136, 6135, 6134, 6133, 6132, 6131, 6130, 6129, 6128, 6127, 6126, 6125, 6124, 6123, 6122, 6121];
const samplesPerLevel = [at6178, at6176, at6174, at6173, at6172, at6171, at6170, at6169, at6168, at6167, at6166, at6165, at6164, at6163, at6162, at6161, at6160, at6159, at6158, at6157, at6156, at6155, at6154, at6153, at6152, at6151, at6150, at6149, at6148, at6147, at6146, at6145, at6144, at6143, at6142, at6141, at6140, at6139, at6138, at6137, at6136, at6135, at6134, at6133, at6132, at6131, at6130, at6129, at6128, at6127, at6126, at6125, at6124, at6123, at6122, at6121];

// Flatten the per-level lists into scatter points
const points = [];
adcLevels.forEach((level, i) => {
    samplesPerLevel[i].forEach(sample => points.push({ x: sample, y: level }));
});

const baseFont = '"DejaVu Sans", sans-serif';

// All four spines plus the legend box, which Chart.js can't place inside the axes
const framePlugin = {
    id: 'frameAndLegend',
    afterDatasetsDraw(chart) {
        const { ctx, chartArea } = chart;
        ctx.save();
        ctx.strokeStyle = '#000';
        ctx.lineWidth = 1.1;
        ctx.strokeRect(chartArea.left, chartArea.top, chartArea.width, chartArea.height);

        // legend frame
        ctx.lineWidth = 1;
        ctx.beginPath();
        ctx.roundRect(781, 42.5, 197, 44, 3);
        ctx.fillStyle = 'rgba(255,255,255,0.8)';
        ctx.fill();
        ctx.strokeStyle = '#d6d6d6';
        ctx.stroke();

        // legend marker
        ctx.beginPath();
        ctx.arc(799, 65, 2.8, 0, Math.PI * 2);
        ctx.fillStyle = '#000';
        ctx.fill();

        // legend text
        ctx.textBaseline = 'alphabetic';
        ctx.textAlign = 'left';
        ctx.font = '13.9px ' + baseFont;
        ctx.fillText(seriesName, 825, 59);
        let x = 825;
        const parts = [['\u03bc', true], [meanText, false], ['\u03c3', true], [sigmaText, false]];
        parts.forEach(([text, italic]) => {
            ctx.font = (italic ? 'italic ' : '') + '13.9px ' + baseFont;
            ctx.fillText(text, x, 75);
            x += ctx.measureText(text).width;
        });
        ctx.restore();
    }
};

new Chart(document.getElementById('pedestalChart'), {
    type: 'scatter',
    data: {
        datasets: [{
            label: seriesName,
            data: points,
            backgroundColor: '#000',
            borderColor: '#000',
            pointRadius: 2.8,
            pointBorderWidth: 0,
            pointHoverRadius: 2.8
        }]
    },
    options: {
        responsive: false,
        animation: false,
        layout: { padding: { left: 0, right: 15, top: 0, bottom: 0 } },
        scales: {
            x: {
                type: 'linear',
                min: -492,
                max: 10416,
                afterFit: scale => { scale.height = 57.7; },
                afterBuildTicks: scale => { scale.ticks = xTickValues.map(v => ({ value: v })); },
                ticks: {
                    color: '#000',
                    autoSkip: false,
                    maxRotation: 0,
                    padding: 4,
                    font: { family: baseFont, size: 13.9 },
                    callback: v => String(v)
                },
                grid: { color: '#b0b0b0', lineWidth: 1.1, tickColor: '#000', tickLength: 5 },
                border: { display: false },
                title: {
                    display: true,
                    text: 'Sample #',
                    color: '#000',
                    font: { family: baseFont, size: 13.9 },
                    padding: { top: 3, bottom: 13 }
                }
            },
            y: {
                type: 'linear',
                min: 6118.13,
                max: 6180.9,
                afterFit: scale => { scale.width = 80.5; },
                afterBuildTicks: scale => { scale.ticks = yTickValues.map(v => ({ value: v })); },
                ticks: {
                    color: '#000',
                    autoSkip: false,
                    padding: 5.5,
                    font: { family: baseFont, size: 13.9 },
                    callback: v => String(v)
                },
                grid: { color: '#b0b0b0', lineWidth: 1.1, tickColor: '#000', tickLength: 5 },
                border: { display: false },
                title: {
                    display: true,
                    text: 'ADC Counts',
                    color: '#000',
                    font: { family: baseFont, size: 13.9 },
                    padding: { top: 13, bottom: 0 }
                }
            }
        },
        plugins: {
            legend: { display: false },
            tooltip: { enabled: false },
            title: {
                display: true,
                text: chartTitle,
                color: '#000',
                fullSize: false,
                font: { family: baseFont, size: 16.67, weight: 'normal' },
                padding: { top: 12.3, bottom: 3 }
            }
        }
    },
    plugins: [framePlugin]
});
</script>
</body>
</html>
